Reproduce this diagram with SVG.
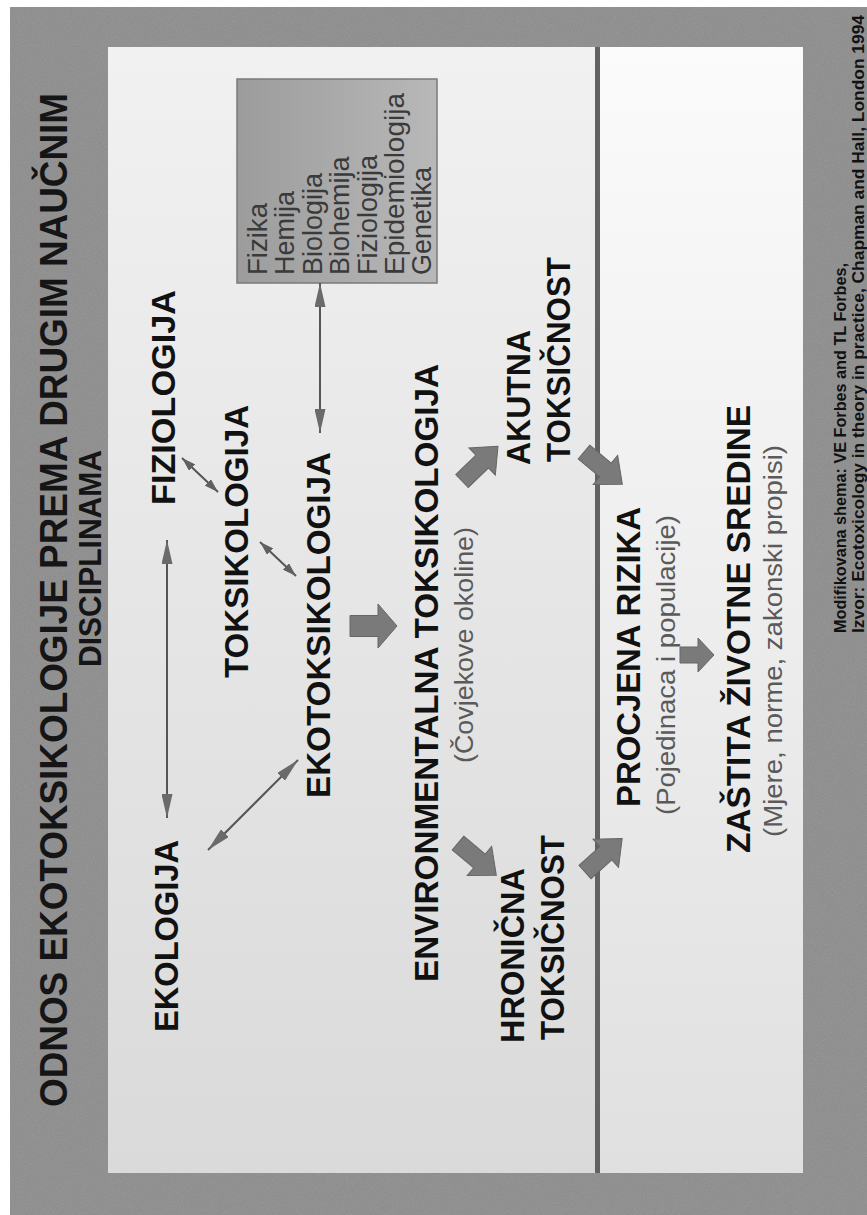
<svg xmlns="http://www.w3.org/2000/svg" width="867" height="1215" viewBox="0 0 867 1215">
<defs>
<style>
.lbl{font-family:"Liberation Sans",Arial,sans-serif;font-weight:bold;fill:#111;font-size:33px}
.ttl{font-family:"Liberation Sans",Arial,sans-serif;font-weight:bold;fill:#151515}
.sub{font-family:"Liberation Sans",Arial,sans-serif;fill:#5a5a5a;font-size:26px}
.box{font-family:"Liberation Sans",Arial,sans-serif;fill:#3a3a3a;font-size:27px}
.ftr{font-family:"Liberation Sans",Arial,sans-serif;font-weight:bold;fill:#111;font-size:17px}
.thin{stroke:#555;stroke-width:2;fill:none}
.blk{fill:#7a7a7a;stroke:#666;stroke-width:1}
</style>
<linearGradient id="gL" x1="0" y1="0" x2="0" y2="1">
<stop offset="0" stop-color="#f1f1f1"/><stop offset="1" stop-color="#dadada"/>
</linearGradient>
<linearGradient id="gR" x1="0" y1="0" x2="0" y2="1">
<stop offset="0" stop-color="#fbfbfb"/><stop offset="1" stop-color="#e0e0e0"/>
</linearGradient>
<linearGradient id="gB" x1="0" y1="0" x2="1" y2="0">
<stop offset="0" stop-color="#9c9c9c"/><stop offset="1" stop-color="#b8b8b8"/>
</linearGradient>
<filter id="grain" x="0" y="0" width="100%" height="100%">
<feTurbulence type="fractalNoise" baseFrequency="0.9" numOctaves="2" seed="4"/>
<feColorMatrix type="saturate" values="0"/>
</filter>
<marker id="ahS" viewBox="0 0 14 9" refX="14" refY="4.5" markerWidth="14" markerHeight="9" markerUnits="userSpaceOnUse" orient="auto-start-reverse">
<path d="M0,0 L14,4.5 L0,9 Z" fill="#606060"/>
</marker>
<marker id="ahL" viewBox="0 0 24 11" refX="24" refY="5.5" markerWidth="24" markerHeight="11" markerUnits="userSpaceOnUse" orient="auto-start-reverse">
<path d="M0,0 L24,5.5 L0,11 Z" fill="#6a6a6a"/>
</marker>
</defs>

<g id="background">
<rect x="0" y="0" width="867" height="1215" fill="#ffffff"/>
<rect x="10" y="7" width="857" height="1208" fill="#8c8c8c"/>
<rect x="10" y="7" width="857" height="1208" filter="url(#grain)" opacity="0.2"/>
<rect x="108" y="47" width="487" height="1126" fill="url(#gL)"/>
<rect x="600" y="47" width="203" height="1126" fill="url(#gR)"/>
<rect x="595" y="47" width="5" height="1126" fill="#626262"/>
</g>

<g id="title">
<text class="ttl" font-size="38" transform="translate(67,1107) rotate(-90)" textLength="1014" lengthAdjust="spacingAndGlyphs">ODNOS EKOTOKSIKOLOGIJE PREMA DRUGIM NAUČNIM</text>
<text class="ttl" font-size="32" transform="translate(101,667) rotate(-90)" textLength="217" lengthAdjust="spacingAndGlyphs">DISCIPLINAMA</text>
</g>

<g id="disciplines-box">
<rect x="237" y="79" width="200" height="204" fill="url(#gB)" stroke="#7a7a7a" stroke-width="1.5"/>
<text class="box" transform="translate(266.5,275) rotate(-90)" textLength="72" lengthAdjust="spacingAndGlyphs">Fizika</text>
<text class="box" transform="translate(294,275) rotate(-90)">Hemija</text>
<text class="box" transform="translate(321.5,275) rotate(-90)">Biologija</text>
<text class="box" transform="translate(349,275) rotate(-90)">Biohemija</text>
<text class="box" transform="translate(376.5,275) rotate(-90)">Fiziologija</text>
<text class="box" transform="translate(404,275) rotate(-90)" textLength="182" lengthAdjust="spacingAndGlyphs">Epidemiologija</text>
<text class="box" transform="translate(431,275) rotate(-90)">Genetika</text>
</g>

<g id="fiziologija"><text class="lbl" transform="translate(175,505) rotate(-90)" textLength="215" lengthAdjust="spacingAndGlyphs">FIZIOLOGIJA</text></g>
<g id="toksikologija"><text class="lbl" transform="translate(248,678) rotate(-90)" textLength="273" lengthAdjust="spacingAndGlyphs">TOKSIKOLOGIJA</text></g>
<g id="ekotoksikologija"><text class="lbl" transform="translate(330,798) rotate(-90)" textLength="346" lengthAdjust="spacingAndGlyphs">EKOTOKSIKOLOGIJA</text></g>
<g id="ekologija"><text class="lbl" transform="translate(178,1032) rotate(-90)" textLength="192" lengthAdjust="spacingAndGlyphs">EKOLOGIJA</text></g>
<g id="environmentalna">
<text class="lbl" transform="translate(438,982) rotate(-90)" textLength="618" lengthAdjust="spacingAndGlyphs">ENVIRONMENTALNA TOKSIKOLOGIJA</text>
<text class="sub" transform="translate(473,763) rotate(-90)" textLength="236" lengthAdjust="spacingAndGlyphs">(Čovjekove okoline)</text>
</g>
<g id="akutna">
<text class="lbl" font-size="32" transform="translate(530,465) rotate(-90)" textLength="135" lengthAdjust="spacingAndGlyphs">AKUTNA</text>
<text class="lbl" font-size="32" transform="translate(570,462) rotate(-90)" textLength="205" lengthAdjust="spacingAndGlyphs">TOKSIČNOST</text>
</g>
<g id="hronicna">
<text class="lbl" font-size="32" transform="translate(524,1043) rotate(-90)" textLength="175" lengthAdjust="spacingAndGlyphs">HRONIČNA</text>
<text class="lbl" font-size="32" transform="translate(564,1040) rotate(-90)" textLength="205" lengthAdjust="spacingAndGlyphs">TOKSIČNOST</text>
</g>
<g id="procjena">
<text class="lbl" transform="translate(640,807) rotate(-90)" textLength="300" lengthAdjust="spacingAndGlyphs">PROCJENA RIZIKA</text>
<text class="sub" transform="translate(675,815) rotate(-90)" textLength="300" lengthAdjust="spacingAndGlyphs">(Pojedinaca i populacije)</text>
</g>
<g id="zastita">
<text class="lbl" transform="translate(750,853) rotate(-90)" textLength="448" lengthAdjust="spacingAndGlyphs">ZAŠTITA ŽIVOTNE SREDINE</text>
<text class="sub" transform="translate(782,837) rotate(-90)" textLength="392" lengthAdjust="spacingAndGlyphs">(Mjere, norme, zakonski propisi)</text>
</g>
<g id="footer">
<text class="ftr" transform="translate(846,633) rotate(-90)" textLength="370" lengthAdjust="spacingAndGlyphs">Modifikovana shema: VE Forbes and TL Forbes,</text>
<text class="ftr" transform="translate(864,633) rotate(-90)" textLength="618" lengthAdjust="spacingAndGlyphs">Izvor: Ecotoxicology in theory in practice, Chapman and Hall, London 1994</text>
</g>

<g id="connectors">
<line class="thin" x1="320" y1="283" x2="320" y2="433" marker-start="url(#ahL)" marker-end="url(#ahL)"/>
<line class="thin" x1="167" y1="540" x2="167" y2="818" marker-start="url(#ahL)" marker-end="url(#ahL)"/>
<line class="thin" x1="182" y1="458" x2="218" y2="492" marker-start="url(#ahS)" marker-end="url(#ahS)"/>
<line class="thin" x1="260" y1="542" x2="296" y2="576" marker-start="url(#ahS)" marker-end="url(#ahS)"/>
<line class="thin" x1="298" y1="760" x2="208" y2="850" marker-start="url(#ahL)" marker-end="url(#ahL)"/>
<path class="blk" transform="translate(350,626)" d="M0,-10.5 L28,-10.5 L28,-22 L47,0 L28,22 L28,10.5 L0,10.5 Z"/>
<path class="blk" transform="translate(680,655)" d="M0,-8 L18,-8 L18,-17 L34,0 L18,17 L18,8 L0,8 Z"/>
<path class="blk" transform="translate(462,481) rotate(-44)" d="M0,-9 L28,-9 L28,-19 L50,0 L28,19 L28,9 L0,9 Z"/>
<path class="blk" transform="translate(458,843) rotate(40)" d="M0,-9 L28,-9 L28,-19 L50,0 L28,19 L28,9 L0,9 Z"/>
<path class="blk" transform="translate(585,872) rotate(-42)" d="M0,-9 L28,-9 L28,-19 L50,0 L28,19 L28,9 L0,9 Z"/>
<path class="blk" transform="translate(584,452) rotate(40)" d="M0,-9 L28,-9 L28,-19 L50,0 L28,19 L28,9 L0,9 Z"/>
</g>
</svg>
